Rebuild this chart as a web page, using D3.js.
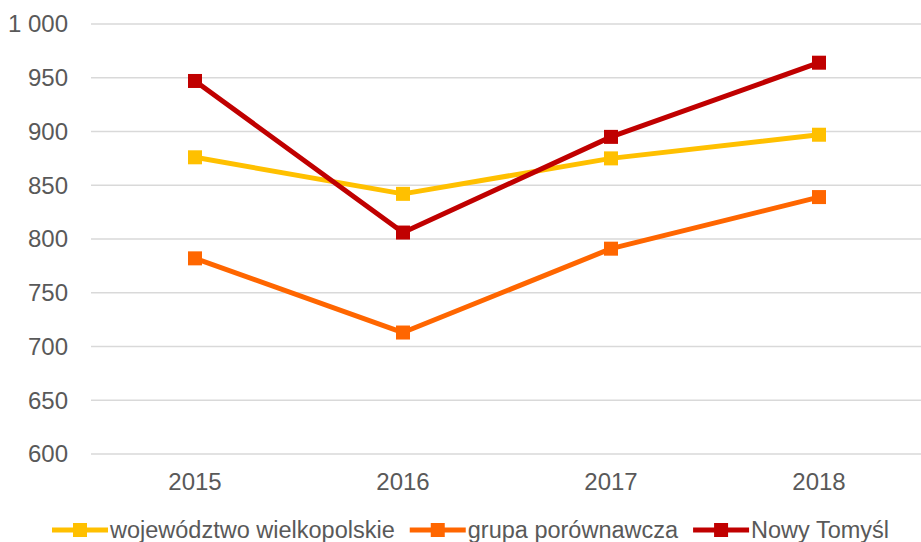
<!DOCTYPE html>
<html>
<head>
<meta charset="utf-8">
<script src="https://cdn.jsdelivr.net/npm/d3@7"></script>
<style>
body { margin: 0; background: #fff; }
svg { display: block; font-family: "Liberation Sans", Arial, sans-serif; }
</style>
</head>
<body>
<div id="viz"></div>
<script>
// data
years = ["2015", "2016", "2017", "2018"];
wielkopolskie = [876, 842, 875, 897];
porownawcza = [782, 713, 791, 839];
nowyTomysl = [947, 806, 895, 964];
seriesNames = ["województwo wielkopolskie", "grupa porównawcza", "Nowy Tomyśl"];
colors = ["#FFC000", "#FF6600", "#C00000"];
yTicks = [600, 650, 700, 750, 800, 850, 900, 950, 1000];

width = 921;
height = 542;

svg = d3.select("#viz").append("svg")
	.attr("width", width)
	.attr("height", height);

var x = d3.scaleBand()
	.domain(years)
	.range([91, 923]);

var y = d3.scaleLinear()
	.domain([600, 1000])
	.range([454, 24]);

// gridlines
svg.append("g")
	.selectAll("line").data(yTicks).enter().append("line")
	.attr("x1", 91)
	.attr("x2", width)
	.attr("y1", function(d) {return y(d);})
	.attr("y2", function(d) {return y(d);})
	.attr("stroke", "#d9d9d9")
	.attr("stroke-width", 1.3);

// y labels
svg.append("g")
	.selectAll("text").data(yTicks).enter().append("text")
	.attr("x", 68)
	.attr("y", function(d) {return y(d);})
	.attr("dy", "0.35em")
	.attr("text-anchor", "end")
	.attr("fill", "#595959")
	.style("font-size", "24px")
	.text(function(d) {return d3.format(",")(d).replace(",", " ");});

// x labels
svg.append("g")
	.selectAll("text").data(years).enter().append("text")
	.attr("x", function(d) {return x(d) + x.bandwidth()/2;})
	.attr("y", 482)
	.attr("dy", "0.35em")
	.attr("text-anchor", "middle")
	.attr("fill", "#595959")
	.style("font-size", "24px")
	.text(function(d) {return d;});

var allSeries = [wielkopolskie, porownawcza, nowyTomysl];

var line = d3.line()
	.x(function(d, i) {return x(years[i]) + x.bandwidth()/2;})
	.y(function(d) {return y(d);});

allSeries.forEach(function(s, k) {
	var g = svg.append("g");
	g.append("path").datum(s)
		.attr("d", line)
		.attr("fill", "none")
		.attr("stroke", colors[k])
		.attr("stroke-width", 5)
		.attr("stroke-linejoin", "round");
	g.selectAll("rect").data(s).enter().append("rect")
		.attr("x", function(d, i) {return x(years[i]) + x.bandwidth()/2 - 7;})
		.attr("y", function(d) {return y(d) - 7;})
		.attr("width", 14)
		.attr("height", 14)
		.attr("fill", colors[k]);
});

// legend
legend = svg.append("g");
var lx = 52;
seriesNames.forEach(function(name, k) {
	legend.append("line")
		.attr("x1", lx).attr("x2", lx + 56)
		.attr("y1", 530).attr("y2", 530)
		.attr("stroke", colors[k])
		.attr("stroke-width", 5);
	legend.append("rect")
		.attr("x", lx + 21).attr("y", 523)
		.attr("width", 14).attr("height", 14)
		.attr("fill", colors[k]);
	var t = legend.append("text")
		.attr("x", lx + 58)
		.attr("y", 530)
		.attr("dy", "0.35em")
		.attr("fill", "#595959")
		.style("font-size", "23.5px")
		.text(name);
	lx = lx + 58 + t.node().getComputedTextLength() + 15;
});
</script>
</body>
</html>
